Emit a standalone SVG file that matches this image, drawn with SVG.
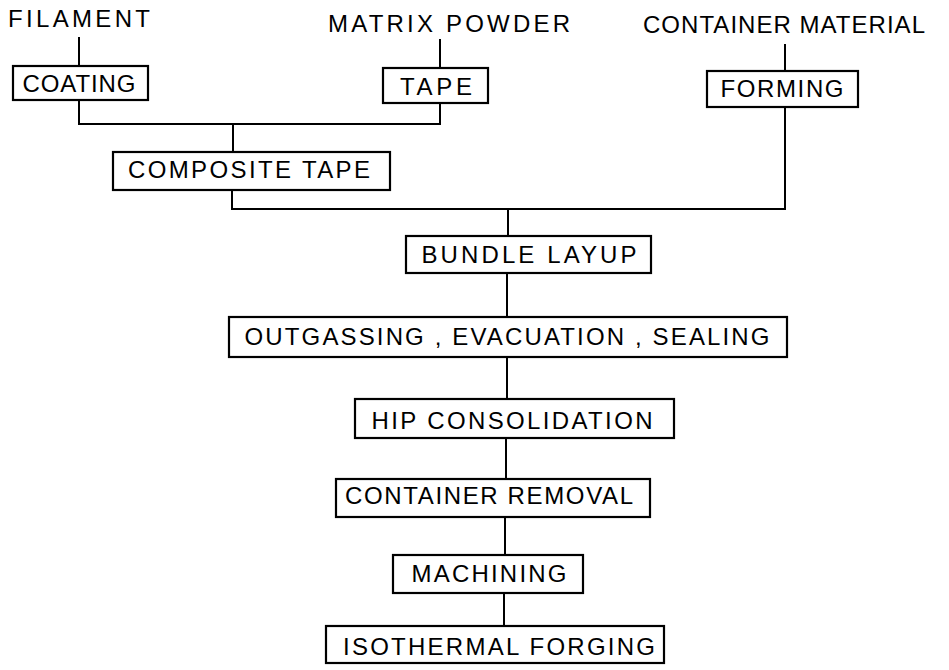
<svg xmlns="http://www.w3.org/2000/svg" width="949" height="670" viewBox="0 0 949 670">
<style>
rect{fill:#fff;stroke:#000;stroke-width:2.2}
.c path{fill:none;stroke:#000;stroke-width:2}
text{font-family:"Liberation Sans","DejaVu Sans",sans-serif;font-size:24px;fill:#000;text-anchor:middle}
</style>
<rect x="0" y="0" width="949" height="670" style="stroke:none"/>
<g class="c" id="connectors">
<path d="M79 37V65"/>
<path d="M440 39V68"/>
<path d="M785 44V71"/>
<path d="M79 100V124H440V103"/>
<path d="M233 124V152"/>
<path d="M232 190V209H785V107"/>
<path d="M508 209V236"/>
<path d="M507 273V317"/>
<path d="M507 357V399"/>
<path d="M506 438V479"/>
<path d="M505 517V555"/>
<path d="M504 593V626"/>
</g>
<g id="filament"><text x="79" y="27" textLength="142" lengthAdjust="spacing">FILAMENT</text></g>
<g id="matrix-powder"><text x="449" y="32" textLength="242" lengthAdjust="spacing">MATRIX POWDER</text></g>
<g id="container-material"><text x="784" y="33" textLength="282" lengthAdjust="spacing">CONTAINER MATERIAL</text></g>
<g id="coating"><rect x="13" y="66" width="135" height="34"/><text x="79" y="92" textLength="113" lengthAdjust="spacing">COATING</text></g>
<g id="tape"><rect x="383" y="68" width="105" height="35"/><text x="436" y="95" textLength="72" lengthAdjust="spacing">TAPE</text></g>
<g id="forming"><rect x="707" y="71" width="151" height="36"/><text x="782" y="97" textLength="123" lengthAdjust="spacing">FORMING</text></g>
<g id="composite-tape"><rect x="113" y="152" width="277" height="38"/><text x="249" y="178" textLength="242" lengthAdjust="spacing">COMPOSITE TAPE</text></g>
<g id="bundle-layup"><rect x="406" y="236" width="245" height="37"/><text x="529" y="263" textLength="215" lengthAdjust="spacing">BUNDLE LAYUP</text></g>
<g id="outgassing"><rect x="229" y="317" width="558" height="40"/><text x="507" y="345" textLength="525" lengthAdjust="spacing">OUTGASSING , EVACUATION , SEALING</text></g>
<g id="hip"><rect x="355" y="399" width="319" height="39"/><text x="512" y="429" textLength="281" lengthAdjust="spacing">HIP CONSOLIDATION</text></g>
<g id="container-removal"><rect x="336" y="479" width="314" height="38"/><text x="489" y="504" textLength="288" lengthAdjust="spacing">CONTAINER REMOVAL</text></g>
<g id="machining"><rect x="393" y="555" width="190" height="38"/><text x="489" y="582" textLength="155" lengthAdjust="spacing">MACHINING</text></g>
<g id="isothermal-forging"><rect x="326" y="626" width="338" height="37"/><text x="499" y="655" textLength="312" lengthAdjust="spacing">ISOTHERMAL FORGING</text></g>
</svg>
